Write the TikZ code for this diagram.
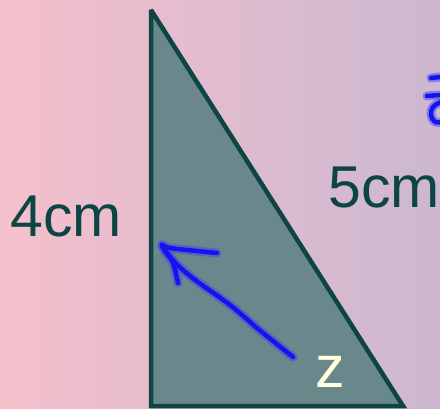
\documentclass[tikz,border=0pt]{standalone}
\usepackage{fontspec}
\setmainfont{Liberation Sans}
\usepackage{xcolor}
\usetikzlibrary{positioning}

\definecolor{bgpink}{HTML}{F5C0CC}
\definecolor{bglilac}{HTML}{CCB8D0}
\definecolor{trifill}{HTML}{6A878C}
\definecolor{triedge}{HTML}{0C4543}
\definecolor{inkblue}{HTML}{1414EE}
\definecolor{zcream}{HTML}{FFFFDC}

\begin{document}
\begin{tikzpicture}[
    x=1pt, y=-1pt,
    side/.style={font=\fontsize{59}{70}\selectfont, text=triedge, inner sep=0pt, anchor=base west},
    glow/.style={line width=9pt, inkblue!80, opacity=.5, line cap=round, line join=round},
    ink/.style={line width=4.5pt, inkblue, line cap=round, line join=round}
]
    \useasboundingbox (0,0) rectangle (440,408);
    \shade[left color=bgpink, right color=bglilac] (0,0) rectangle (440,408);

    % the triangle
    \draw[fill=trifill, draw=triedge, line width=4.5pt, miter limit=3]
        (151,10) -- (151,406) -- (403,406) -- cycle;

    \node[side] (four) at (10,236) {4cm};
    \node[side] (five) at (328,207) {5cm};
    \node[side, text=zcream] (zed) at (315,387) {z};

    % hand drawn arrow
    \coordinate (tail) at (293,357);
    \coordinate (tip) at (162,245);
    \foreach \s in {glow, ink} {
        \draw[\s] plot[smooth, tension=.6] coordinates
            {(tail) (273,341) (257,328) (230,305) (190,276) (168,255) (tip)};
        \draw[\s] plot[smooth, tension=.6] coordinates
            {(178,283) (173,263) (165,250) (tip) (170,248) (197,251) (217,253)};
    }

    % scribble at the edge
    \foreach \s in {glow, ink} {
        \draw[\s] (431,78) -- (440,77);
        \draw[\s] (427,96) -- (440,95);
        \draw[\s] plot[smooth, tension=.7] coordinates
            {(441,102) (433,107) (431,115) (435,122) (441,122)};
    }
\end{tikzpicture}
\end{document}
